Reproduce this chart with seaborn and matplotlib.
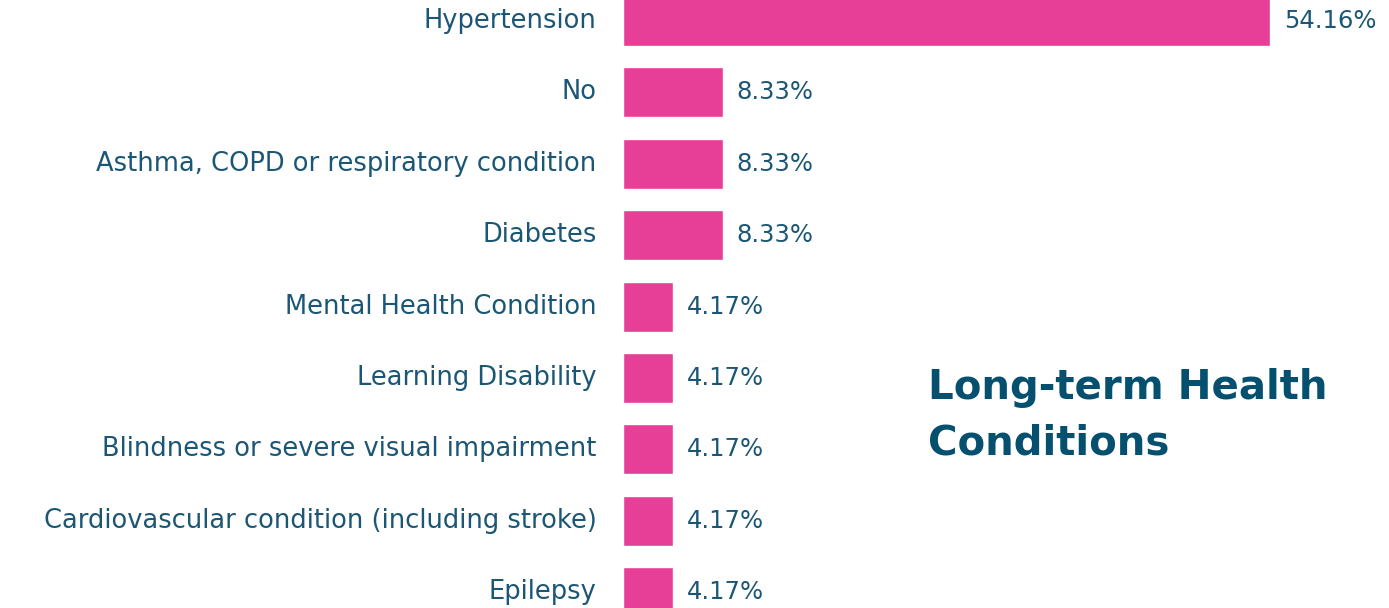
import pandas as pd
import matplotlib.pyplot as plt
import seaborn as sns

conditions = [
    "Hypertension",
    "No",
    "Asthma, COPD or respiratory condition",
    "Diabetes",
    "Mental Health Condition",
    "Learning Disability",
    "Blindness or severe visual impairment",
    "Cardiovascular condition (including stroke)",
    "Epilepsy",
]
shares = [54.16, 8.33, 8.33, 8.33, 4.17, 4.17, 4.17, 4.17, 4.17]
value_labels = ["54.16%", "8.33%", "8.33%", "8.33%", "4.17%", "4.17%", "4.17%", "4.17%", "4.17%"]

bar_color = "#E73E97"
text_color = "#1B5775"
title_color = "#05506E"


def main():
    df = pd.DataFrame({"condition": conditions, "share": shares})

    sns.set_theme(style="white")
    plt.rcParams["font.family"] = ["DejaVu Sans"]

    fig = plt.figure(figsize=(13.89, 6.08), dpi=100)
    ax = fig.add_axes([623 / 1389, 0, 766 / 1389, 1])

    sns.barplot(data=df, x="share", y="condition", orient="h",
                color=bar_color, saturation=1, width=0.7, ax=ax)

    ax.set_xlim(0, 64.1)
    ax.set_ylim(8.22, -0.294)
    ax.set_xlabel("")
    ax.set_ylabel("")
    ax.set_xticks([])
    ax.tick_params(axis="y", length=0, pad=19, labelsize=18.5, labelcolor=text_color)
    for lbl in ax.get_yticklabels():
        lbl.set_va("center")
    sns.despine(ax=ax, left=True, bottom=True, top=True, right=True)

    ax.bar_label(ax.containers[0], labels=value_labels, padding=10,
                 fontsize=17.5, color=text_color)

    fig.text(928 / 1389, 1 - 416 / 608, "Long-term Health\nConditions",
             fontsize=29, fontweight="bold", color=title_color,
             va="center", ha="left", linespacing=1.5)

    fig.savefig("out.png", dpi=100)
    plt.close()


if __name__ == "__main__":
    main()
